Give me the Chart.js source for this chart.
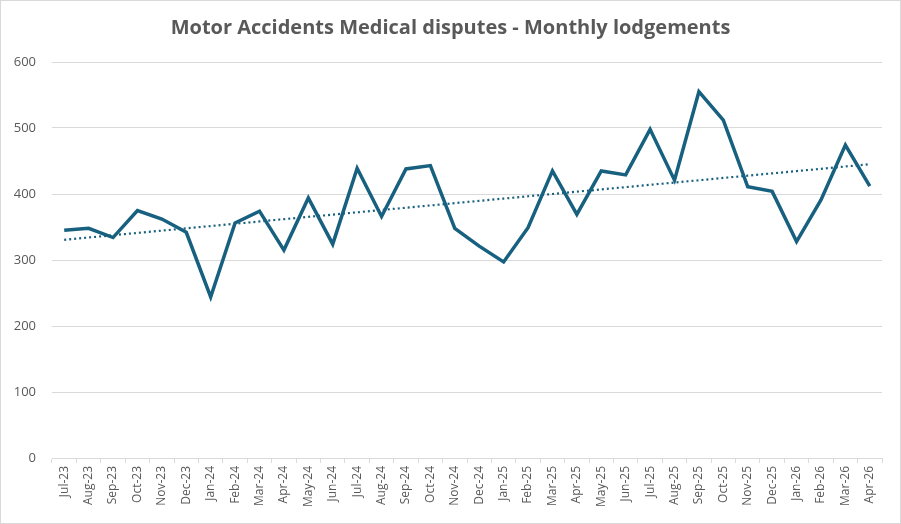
<!DOCTYPE html>
<html>
<head>
<meta charset="utf-8">
<script src="https://cdn.jsdelivr.net/npm/chart.js@4/dist/chart.umd.min.js"></script>
<style>
  html, body { margin: 0; padding: 0; background: #ffffff; }
  #wrap { width: 901px; height: 524px; position: relative; }
</style>
</head>
<body>
<div id="wrap"><canvas id="c" width="901" height="524"></canvas></div>
<script>
const months = ["Jul-23","Aug-23","Sep-23","Oct-23","Nov-23","Dec-23","Jan-24","Feb-24","Mar-24","Apr-24","May-24","Jun-24","Jul-24","Aug-24","Sep-24","Oct-24","Nov-24","Dec-24","Jan-25","Feb-25","Mar-25","Apr-25","May-25","Jun-25","Jul-25","Aug-25","Sep-25","Oct-25","Nov-25","Dec-25","Jan-26","Feb-26","Mar-26","Apr-26"];
const lodgements = [345,348,334,375,362,342,244,356,374,315,394,324,439,366,438,443,348,321,297,349,435,369,435,429,498,421,555,512,411,404,328,391,474,412];
const yTicks = [0,100,200,300,400,500,600];
const chartTitle = "Motor Accidents Medical disputes - Monthly lodgements";

// Linear trendline (least squares), as the spreadsheet does
function linearTrend(vals) {
  const n = vals.length;
  let sx = 0, sy = 0, sxy = 0, sxx = 0;
  vals.forEach((v, i) => { sx += i; sy += v; sxy += i * v; sxx += i * i; });
  const b = (n * sxy - sx * sy) / (n * sxx - sx * sx);
  const a = (sy - b * sx) / n;
  return vals.map((_, i) => a + b * i);
}
const trend = linearTrend(lodgements);

const framePlugin = {
  id: 'frame',
  beforeDraw(chart) {
    const ctx = chart.ctx;
    ctx.save();
    ctx.fillStyle = '#ffffff';
    ctx.fillRect(0, 0, chart.width, chart.height);
    ctx.strokeStyle = '#d9d9d9';
    ctx.lineWidth = 1;
    ctx.strokeRect(0.5, 0.5, chart.width - 1, chart.height - 1);
    // chart title, centred on the whole frame
    ctx.fillStyle = '#595959';
    ctx.font = 'bold 20px "Open Sans"';
    ctx.textAlign = 'center';
    ctx.textBaseline = 'middle';
    ctx.fillText(chartTitle, chart.width / 2, 28);
    ctx.restore();
  }
};

new Chart(document.getElementById('c'), {
  type: 'line',
  data: {
    labels: months,
    datasets: [
      {
        label: 'Lodgements',
        data: lodgements,
        borderColor: '#17607f',
        borderWidth: 3.5,
        pointRadius: 0,
        tension: 0,
        borderJoinStyle: 'miter',
        order: 1
      },
      {
        label: 'Linear trend',
        data: trend,
        borderColor: '#17607f',
        borderWidth: 2.2,
        borderDash: [2, 3],
        pointRadius: 0,
        tension: 0,
        order: 2
      }
    ]
  },
  options: {
    responsive: false,
    animation: false,
    devicePixelRatio: 1,
    layout: { padding: { left: 0, right: 19, top: 62, bottom: 0 } },
    plugins: {
      legend: { display: false },
      tooltip: { enabled: false },
      title: { display: false }
    },
    scales: {
      x: {
        type: 'category',
        offset: true,
        grid: {
          offset: true,
          drawOnChartArea: false,
          drawTicks: true,
          tickLength: 5,
          color: '#d9d9d9'
        },
        border: { display: true, color: '#d9d9d9', width: 1 },
        ticks: {
          autoSkip: false,
          maxRotation: 90,
          minRotation: 90,
          padding: 3,
          color: '#595959',
          font: { family: 'Open Sans', size: 12 }
        },
        afterFit(scale) { scale.height = 66; }
      },
      y: {
        min: 0,
        max: 600,
        afterBuildTicks(scale) { scale.ticks = yTicks.map(v => ({ value: v })); },
        grid: { color: '#d9d9d9', lineWidth: 1, drawTicks: false },
        border: { display: false },
        ticks: {
          padding: 16,
          color: '#595959',
          font: { family: 'Open Sans', size: 13 }
        },
        afterFit(scale) { scale.width = 52; }
      }
    }
  },
  plugins: [framePlugin]
});
</script>
</body>
</html>
